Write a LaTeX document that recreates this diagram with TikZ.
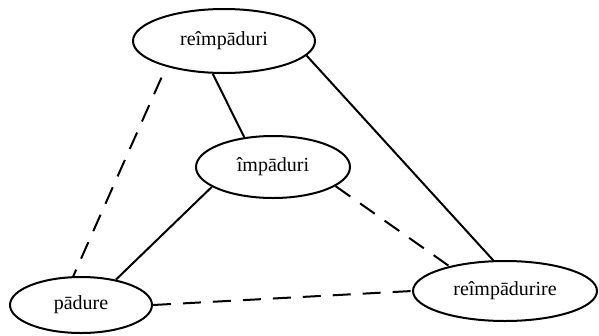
\documentclass[tikz,border=0pt]{standalone}
\usepackage{fontspec}
\setmainfont{Liberation Serif}
\usetikzlibrary{shapes.geometric}
\begin{document}
\begin{tikzpicture}[x=1pt,y=-1pt,
  term/.style={ellipse,draw,line width=2pt,inner sep=0pt,font=\fontsize{20}{24}\selectfont},
  link/.style={line width=2pt},
  weak/.style={line width=2pt,dash pattern=on 18pt off 12pt}]
\useasboundingbox (0,0) rectangle (599,335);
\node[term,minimum width=182pt,minimum height=64pt] (A) at (224,41) {reîmpāduri};
\node[term,minimum width=154pt,minimum height=62pt] (B) at (273,167) {împāduri};
\node[term,minimum width=142pt,minimum height=56pt] (C) at (81,305) {pādure};
\node[term,minimum width=184pt,minimum height=60pt] (D) at (505,291) {reîmpādurire};
\draw[link] (A.251) -- (B.134);
\draw[link] (A.-10) -- (D.111);
\draw[link] (B.198) -- (C.36);
\draw[weak,dash phase=18pt] (A.204) -- (C.105);
\draw[weak] (B.-17) -- (D.156);
\draw[weak] (C.0) -- (D.180);
\end{tikzpicture}
\end{document}
